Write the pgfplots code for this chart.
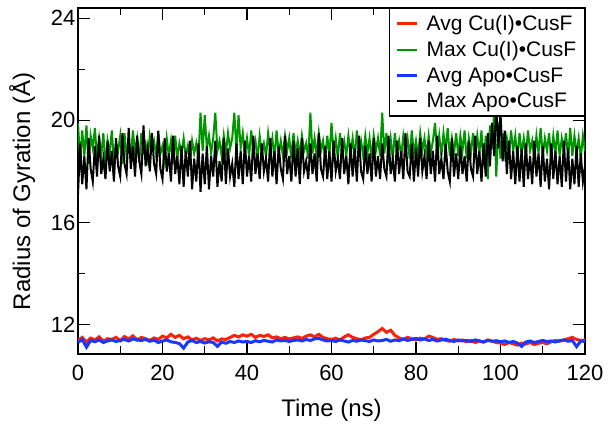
\documentclass[border=0pt]{standalone}
\usepackage{pgfplots}
\usepackage{pgfplotstable}
\pgfplotsset{compat=1.18}
\usepackage{fontspec}
\setmainfont{Liberation Sans}

\definecolor{cred}{RGB}{250,35,10}
\definecolor{cgreen}{RGB}{0,150,0}
\definecolor{cblue}{RGB}{25,55,255}

% Max radius of gyration, every 0.5 ns: t, Max Cu(I)-CusF, Max Apo-CusF
\pgfplotstableread{
t mc ma
0.0 19.9 17.1
0.5 18.4 19.1
1.0 19.6 17.5
1.5 18.6 18.6
2.0 19.8 17.3
2.5 18.3 19.3
3.0 19.4 18.1
3.5 18.9 17.6
4.0 19.7 19.0
4.5 18.5 17.8
5.0 19.3 19.4
5.5 18.6 17.9
6.0 19.5 18.5
6.5 18.2 17.7
7.0 19.2 19.2
7.5 18.7 18.0
8.0 19.6 18.8
8.5 18.4 17.6
9.0 19.1 19.3
9.5 18.8 18.2
10.0 19.4 17.8
10.5 18.3 19.5
11.0 19.5 18.3
11.5 18.6 17.9
12.0 19.2 19.7
12.5 18.5 18.1
13.0 19.6 19.0
13.5 18.7 17.8
14.0 19.3 19.4
14.5 18.4 18.4
15.0 19.5 17.9
15.5 18.8 19.8
16.0 19.1 18.2
16.5 18.5 18.9
17.0 19.4 18.0
17.5 18.9 19.5
18.0 19.2 18.3
18.5 18.6 17.9
19.0 19.5 19.6
19.5 18.7 18.1
20.0 19.0 17.7
20.5 18.4 19.3
21.0 19.3 18.0
21.5 18.6 18.7
22.0 19.2 17.6
22.5 18.3 19.4
23.0 19.4 17.9
23.5 18.5 18.6
24.0 19.1 17.5
24.5 18.7 19.0
25.0 19.3 17.4
25.5 18.6 18.8
26.0 19.0 17.8
26.5 18.4 19.2
27.0 19.2 17.3
27.5 18.7 18.5
28.0 19.1 17.6
28.5 18.5 19.1
29.0 20.3 17.2
29.5 18.8 18.7
30.0 20.2 17.5
30.5 18.9 19.0
31.0 19.4 17.3
31.5 18.7 18.6
32.0 19.3 17.8
32.5 20.3 19.2
33.0 18.8 17.4
33.5 19.2 18.4
34.0 18.6 17.6
34.5 19.4 19.3
35.0 18.7 17.5
35.5 19.5 18.9
36.0 18.9 17.8
36.5 19.3 18.3
37.0 20.3 17.4
37.5 18.8 19.1
38.0 20.2 17.7
38.5 18.9 18.8
39.0 19.5 17.5
39.5 18.7 19.2
40.0 19.3 17.8
40.5 18.6 18.6
41.0 19.6 17.6
41.5 18.8 19.4
42.0 19.2 17.9
42.5 18.5 18.7
43.0 19.4 17.7
43.5 18.7 19.1
44.0 19.1 18.0
44.5 18.6 18.5
45.0 19.5 17.6
45.5 18.8 19.3
46.0 19.3 17.8
46.5 18.5 18.8
47.0 19.6 17.5
47.5 18.7 19.0
48.0 19.2 18.1
48.5 18.6 17.7
49.0 19.4 19.4
49.5 18.8 17.9
50.0 19.3 18.6
50.5 18.5 17.6
51.0 19.5 19.2
51.5 18.7 17.8
52.0 19.2 18.9
52.5 18.6 17.5
53.0 19.4 19.3
53.5 18.8 18.0
54.0 19.1 18.4
54.5 18.5 17.7
55.0 20.3 19.1
55.5 18.7 17.9
56.0 19.3 18.7
56.5 18.6 17.6
57.0 19.5 19.5
57.5 18.8 18.1
58.0 19.2 17.8
58.5 18.5 19.0
59.0 19.4 17.7
59.5 18.6 18.8
60.0 19.9 17.6
60.5 18.7 19.2
61.0 19.3 18.0
61.5 18.5 18.5
62.0 19.5 17.7
62.5 18.8 19.3
63.0 19.2 17.9
63.5 18.6 18.6
64.0 19.4 17.5
64.5 18.7 19.1
65.0 19.3 17.8
65.5 18.5 18.9
66.0 19.6 17.6
66.5 18.8 19.4
67.0 19.2 18.0
67.5 18.6 17.7
68.0 19.4 19.0
68.5 18.7 17.9
69.0 19.3 18.7
69.5 18.5 17.6
70.0 19.4 19.3
70.5 18.8 17.8
71.0 19.3 18.6
71.5 18.6 17.7
72.0 20.3 19.1
72.5 18.7 18.1
73.0 19.5 17.8
73.5 18.6 19.4
74.0 19.3 17.9
74.5 18.5 18.5
75.0 19.5 17.6
75.5 18.7 19.2
76.0 19.2 17.9
76.5 18.6 18.8
77.0 19.4 17.7
77.5 18.8 19.5
78.0 19.3 18.0
78.5 18.5 17.8
79.0 19.6 19.1
79.5 18.7 17.6
80.0 19.2 18.9
80.5 18.6 17.8
81.0 19.5 19.3
81.5 18.8 18.0
82.0 19.3 18.6
82.5 18.6 17.7
83.0 19.4 19.2
83.5 18.7 17.9
84.0 19.2 18.8
84.5 19.9 17.6
85.0 18.7 19.4
85.5 19.4 17.9
86.0 18.6 18.5
86.5 19.5 17.7
87.0 18.8 19.1
87.5 19.7 18.0
88.0 18.6 17.6
88.5 19.3 19.3
89.0 18.7 17.8
89.5 19.5 18.7
90.0 18.6 17.7
90.5 19.4 19.0
91.0 18.8 17.9
91.5 19.6 18.6
92.0 18.5 17.6
92.5 19.3 19.2
93.0 18.7 18.1
93.5 19.5 17.8
94.0 18.6 19.4
94.5 19.4 17.9
95.0 18.7 18.8
95.5 19.6 17.6
96.0 18.2 19.1
96.5 19.4 17.8
97.0 17.7 19.5
97.5 19.8 18.2
98.0 18.9 19.9
98.5 20.4 18.6
99.0 17.8 20.5
99.5 19.9 18.9
100.0 18.5 20.3
100.5 19.5 18.4
101.0 18.7 19.6
101.5 19.3 17.9
102.0 18.6 19.2
102.5 19.6 17.7
103.0 18.8 18.8
103.5 19.4 17.5
104.0 18.5 19.0
104.5 19.5 17.6
105.0 18.7 18.9
105.5 19.3 17.4
106.0 18.6 19.1
106.5 19.6 17.7
107.0 18.8 18.6
107.5 19.2 17.5
108.0 18.5 19.2
108.5 19.4 17.8
109.0 18.7 18.7
109.5 19.7 17.4
110.0 18.6 19.0
110.5 19.3 17.6
111.0 18.8 18.5
111.5 19.5 17.3
112.0 18.5 19.1
112.5 19.4 17.7
113.0 18.7 18.8
113.5 19.6 17.5
114.0 18.6 18.6
114.5 19.3 17.4
115.0 18.8 19.2
115.5 19.5 17.6
116.0 18.5 18.9
116.5 19.7 17.3
117.0 18.6 18.5
117.5 19.4 17.5
118.0 18.7 19.0
118.5 19.3 17.4
119.0 18.5 18.7
119.5 19.4 17.6
120.0 18.8 18.2
}\maxtable

% Average radius of gyration, every 1 ns: t, Avg Cu(I)-CusF, Avg Apo-CusF
\pgfplotstableread{
t ac aa
0 11.38 11.30
1 11.50 11.42
2 11.32 11.12
3 11.47 11.38
4 11.40 11.33
5 11.52 11.40
6 11.35 11.30
7 11.45 11.36
8 11.42 11.40
9 11.50 11.34
10 11.37 11.38
11 11.53 11.42
12 11.44 11.36
13 11.56 11.44
14 11.40 11.40
15 11.50 11.38
16 11.45 11.42
17 11.38 11.35
18 11.48 11.39
19 11.42 11.30
20 11.55 11.36
21 11.48 11.40
22 11.62 11.33
23 11.50 11.30
24 11.58 11.26
25 11.45 11.08
26 11.52 11.32
27 11.40 11.38
28 11.47 11.30
29 11.38 11.34
30 11.45 11.28
31 11.40 11.33
32 11.48 11.30
33 11.36 11.15
34 11.44 11.32
35 11.42 11.27
36 11.50 11.34
37 11.58 11.30
38 11.52 11.36
39 11.60 11.32
40 11.55 11.34
41 11.62 11.30
42 11.50 11.37
43 11.58 11.33
44 11.54 11.38
45 11.60 11.35
46 11.48 11.32
47 11.52 11.40
48 11.45 11.36
49 11.50 11.38
50 11.44 11.34
51 11.48 11.38
52 11.52 11.40
53 11.46 11.36
54 11.55 11.42
55 11.60 11.38
56 11.52 11.44
57 11.62 11.46
58 11.50 11.40
59 11.45 11.36
60 11.42 11.38
61 11.47 11.34
62 11.40 11.40
63 11.52 11.36
64 11.60 11.32
65 11.50 11.38
66 11.45 11.35
67 11.40 11.40
68 11.48 11.37
69 11.50 11.34
70 11.62 11.40
71 11.72 11.36
72 11.85 11.38
73 11.70 11.42
74 11.78 11.35
75 11.58 11.40
76 11.48 11.37
77 11.42 11.44
78 11.50 11.38
79 11.45 11.42
80 11.40 11.46
81 11.47 11.40
82 11.44 11.44
83 11.55 11.38
84 11.50 11.42
85 11.42 11.36
86 11.45 11.40
87 11.38 11.43
88 11.35 11.38
89 11.42 11.34
90 11.36 11.40
91 11.40 11.36
92 11.33 11.38
93 11.38 11.34
94 11.30 11.40
95 11.36 11.36
96 11.32 11.32
97 11.40 11.38
98 11.35 11.35
99 11.30 11.37
100 11.28 11.33
101 11.22 11.36
102 11.30 11.30
103 11.25 11.34
104 11.20 11.28
105 11.28 11.15
106 11.24 11.32
107 11.30 11.36
108 11.22 11.30
109 11.27 11.34
110 11.30 11.38
111 11.25 11.34
112 11.33 11.36
113 11.38 11.32
114 11.35 11.37
115 11.40 11.40
116 11.45 11.35
117 11.50 11.38
118 11.42 11.14
119 11.38 11.36
120 11.40 11.34
}\avgtable

\begin{document}
\begin{tikzpicture}
\useasboundingbox (-78pt,-76pt) rectangle (534pt,354pt);
\begin{axis}[
  at={(0pt,0pt)}, anchor=south west,
  scale only axis, width=507pt, height=346pt,
  xmin=0, xmax=120, ymin=10.85, ymax=24.4,
  xtick={0,20,...,120}, minor x tick num=1,
  ytick={12,16,20,24}, minor y tick num=1,
  xtick pos=both, ytick pos=both, tick align=inside,
  major tick length=12pt, minor tick length=7.5pt,
  every tick/.style={black, line width=1.3pt},
  axis line style={line width=1.5pt},
  /pgf/number format/assume math mode=true,
  /pgf/number format/1000 sep={},
  tick label style={font=\fontsize{22}{26}\selectfont},
  xticklabel style={yshift=-8pt},
  yticklabel style={xshift=1pt},
  label style={font=\fontsize{24}{28}\selectfont},
  xlabel={Time (ns)},
  ylabel={Radius of Gyration (Å)},
  xlabel style={at={(axis description cs:0.5,-0.162)}, anchor=center},
  ylabel style={at={(axis description cs:-0.110,0.47)}, anchor=center},
  legend style={at={(1,1)}, anchor=north east, line width=1.3pt,
    fill=white, font=\fontsize{21}{24}\selectfont, row sep=5.5pt,
    inner xsep=6pt, inner ysep=4.5pt},
  legend cell align=left,
  legend image code/.code={\draw[#1] (0pt,0pt) -- (20pt,0pt); \path (26pt,0pt);},
]
\addplot[cred, line width=3pt] table[x=t, y=ac] {\avgtable};
\addlegendentry{Avg Cu(I)•CusF}
\addplot[cgreen, line width=2pt] table[x=t, y=mc] {\maxtable};
\addlegendentry{Max Cu(I)•CusF}
\addplot[cblue, line width=3pt] table[x=t, y=aa] {\avgtable};
\addlegendentry{Avg Apo•CusF}
\addplot[black, line width=2pt] table[x=t, y=ma] {\maxtable};
\addlegendentry{Max Apo•CusF}
\end{axis}
\end{tikzpicture}
\end{document}
